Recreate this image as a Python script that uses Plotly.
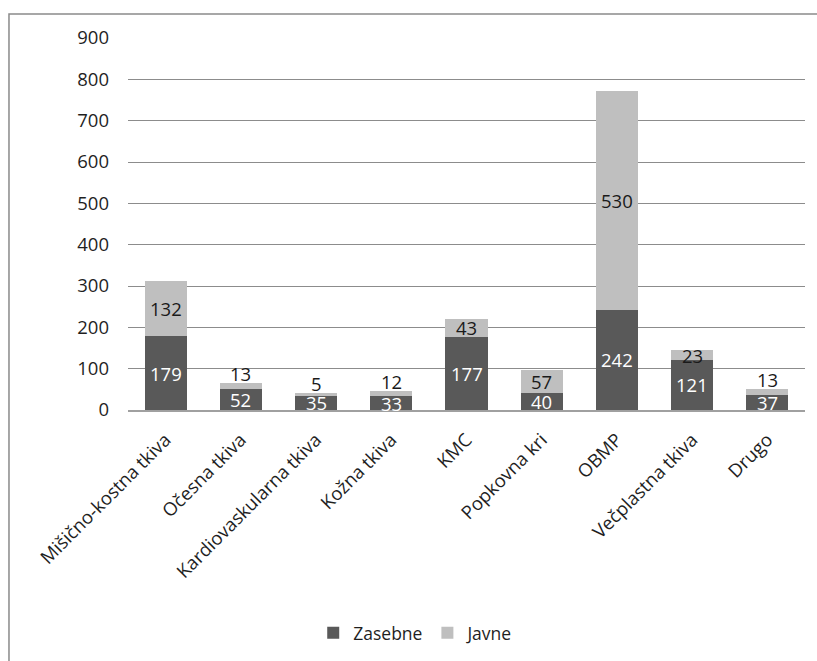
import plotly.graph_objects as go

categories = ["Mišično-kostna tkiva", "Očesna tkiva", "Kardiovaskularna tkiva", "Kožna tkiva",
              "KMC", "Popkovna kri", "OBMP", "Večplastna tkiva", "Drugo"]
zasebne = [179, 52, 35, 33, 177, 40, 242, 121, 37]
javne = [132, 13, 5, 12, 43, 57, 530, 23, 13]
y_ticks = [0, 100, 200, 300, 400, 500, 600, 700, 800, 900]

DARK = "#595959"
LIGHT = "#BFBFBF"
FONT = "Open Sans"
FS = 18.5

fig = go.Figure()
fig.add_trace(go.Bar(x=categories, y=zasebne, name="Zasebne", marker_color=DARK,
                     marker_line_width=0))
fig.add_trace(go.Bar(x=categories, y=javne, name="Javne", marker_color=LIGHT,
                     marker_line_width=0))

annotations = []
for c, z, j in zip(categories, zasebne, javne):
    annotations.append(dict(x=c, y=z / 2, text=str(z), showarrow=False, xref="x", yref="y",
                            font=dict(family=FONT, size=FS, color="white")))
    if j < 20:
        annotations.append(dict(x=c, y=z + j, text=str(j), showarrow=False, xref="x", yref="y",
                                yshift=10, font=dict(family=FONT, size=FS, color="#1a1a1a")))
    else:
        annotations.append(dict(x=c, y=z + j / 2, text=str(j), showarrow=False, xref="x", yref="y",
                                font=dict(family=FONT, size=FS, color="#1a1a1a")))

fig.update_layout(
    barmode="stack",
    bargap=0.44,
    width=817, height=661,
    margin=dict(l=128, r=12, t=38, b=250),
    paper_bgcolor="white",
    plot_bgcolor="white",
    font=dict(family=FONT, size=FS, color="#1f1f1f"),
    annotations=annotations,
    showlegend=True,
    legend=dict(orientation="h", x=0.425, xanchor="center", y=-0.595, yanchor="middle",
                font=dict(family=FONT, size=FS - 1, color="#1f1f1f"), itemwidth=30,
                traceorder="normal"),
    shapes=[dict(type="rect", xref="paper", yref="paper", x0=-0.1758, x1=1.05, y0=-0.9, y1=1.0643,
                 line=dict(color="#8a8a8a", width=1.5), fillcolor="rgba(0,0,0,0)", layer="below")],
)
fig.update_yaxes(range=[0, 900], tickvals=y_ticks, showgrid=True, gridcolor="#8c8c8c", gridwidth=1,
                 zeroline=False, showline=False, ticks="", ticklabelstandoff=18,
                 tickfont=dict(family=FONT, size=FS, color="#1f1f1f"))
fig.update_xaxes(tickangle=-45, showline=True, linecolor="#a0a0a0", linewidth=1.5, ticks="",
                 ticklabelstandoff=10,
                 tickfont=dict(family=FONT, size=FS, color="#1f1f1f"))

fig.write_html("out.html")
